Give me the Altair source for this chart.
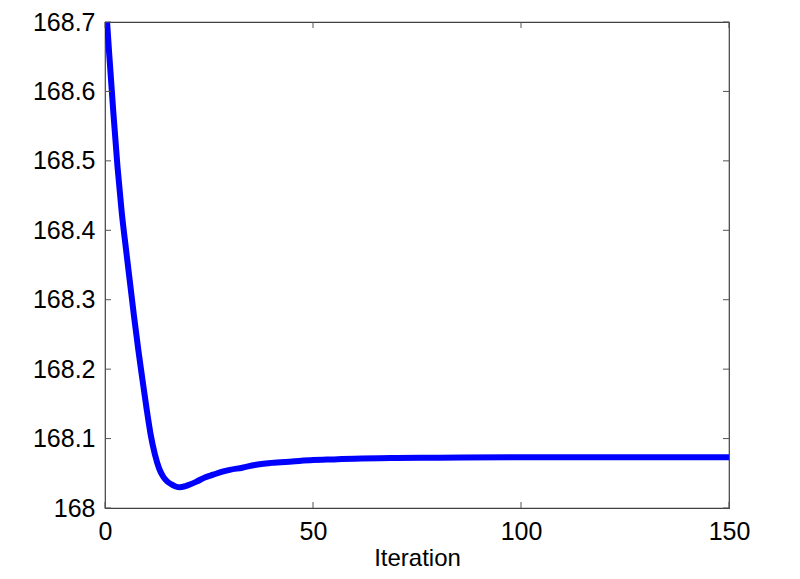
import altair as alt
import pandas as pd

# Data
iterations = [0, 1, 2, 3, 4, 5, 6, 7, 8, 9, 10, 11, 12, 13, 14, 15, 16, 17, 18, 19, 20,
              22, 24, 26, 28, 30, 33, 36, 40, 45, 50, 55, 60, 70, 80, 100, 120, 150]
values = [168.745, 168.655, 168.57, 168.492, 168.427, 168.375, 168.325, 168.275, 168.228,
          168.185, 168.143, 168.105, 168.077, 168.057, 168.045, 168.038, 168.034, 168.031,
          168.030, 168.031, 168.033, 168.038, 168.044, 168.048, 168.052, 168.055, 168.058,
          168.062, 168.065, 168.067, 168.069, 168.070, 168.071, 168.072, 168.0725, 168.073,
          168.073, 168.073]
x_ticks = [0, 50, 100, 150]
y_ticks = [168.0, 168.1, 168.2, 168.3, 168.4, 168.5, 168.6, 168.7]

W, H = 624, 486
FONT = "Liberation Sans"
FS = 25
TICK_COLOR = "#555555"
TL = 6

df = pd.DataFrame({"it": iterations, "val": values})
dx = pd.DataFrame({"it": x_ticks})
dy = pd.DataFrame({"val": y_ticks})

xscale = alt.Scale(domain=[0, 150], nice=False, zero=False)
yscale = alt.Scale(domain=[168.0, 168.7], nice=False, zero=False)

xaxis = alt.Axis(values=x_ticks, ticks=False, domain=False, grid=False,
                 labelFlush=False, labelOverlap=False,
                 labelFontSize=FS, labelFont=FONT, labelColor="#000000",
                 labelPadding=11, titleFontSize=FS - 1, titleFont=FONT,
                 titleFontWeight="normal", titleColor="#000000", titlePadding=2)
yaxis = alt.Axis(values=y_ticks, ticks=False, domain=False, grid=False,
                 labelFlush=False, labelOverlap=False,
                 format="~g", labelFontSize=FS, labelFont=FONT,
                 labelColor="#000000", labelPadding=10)

X = alt.X("it:Q", scale=xscale, title="Iteration", axis=xaxis)
Y = alt.Y("val:Q", scale=yscale, title=None, axis=yaxis)

line = alt.Chart(df).mark_line(color="#0000FF", strokeWidth=6, clip=True,
                               interpolate="monotone").encode(x=X, y=Y)

left_ticks = alt.Chart(dy).mark_rule(color=TICK_COLOR, strokeWidth=1).encode(
    y=Y, x=alt.value(0), x2=alt.value(TL))
right_ticks = alt.Chart(dy).mark_rule(color=TICK_COLOR, strokeWidth=1).encode(
    y=Y, x=alt.value(W - TL), x2=alt.value(W))
bottom_ticks = alt.Chart(dx).mark_rule(color=TICK_COLOR, strokeWidth=1).encode(
    x=X, y=alt.value(H - TL), y2=alt.value(H))
top_ticks = alt.Chart(dx).mark_rule(color=TICK_COLOR, strokeWidth=1).encode(
    x=X, y=alt.value(0), y2=alt.value(TL))

chart = alt.layer(line, left_ticks, right_ticks, bottom_ticks, top_ticks).properties(
    width=W, height=H,
    background="white",
    autosize=alt.AutoSizeParams(type="none"),
    padding={"left": 97, "top": 14, "right": 63, "bottom": 63},
).configure_view(stroke="#404040", strokeWidth=1.2)

chart.save("out.html", embed_options={"renderer": "svg", "actions": False})
